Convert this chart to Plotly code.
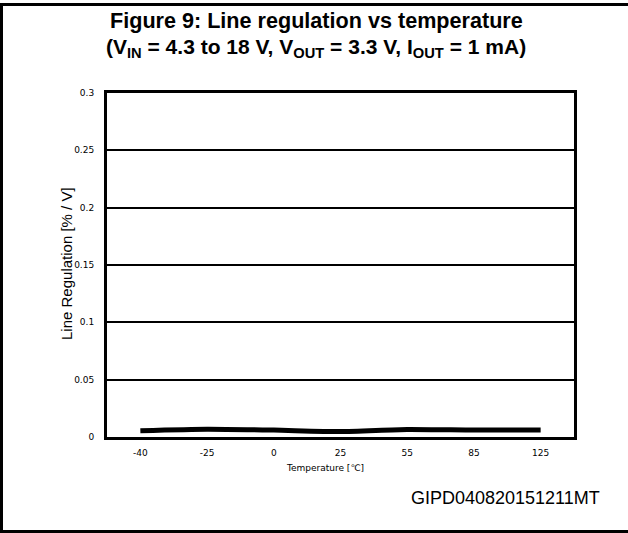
import plotly.graph_objects as go

temps = ["-40", "-25", "0", "25", "55", "85", "125"]
line_reg = [0.0055, 0.0068, 0.006, 0.0047, 0.0066, 0.006, 0.006]
y_ticks = [0, 0.05, 0.1, 0.15, 0.2, 0.25, 0.3]
y_tick_labels = ["0", "0.05", "0.1", "0.15", "0.2", "0.25", "0.3"]

W, H = 628, 533
L, R, T, B = 107, 54, 93, 96
pw, ph = W - L - R, H - T - B

def px(x):
    return (x - L) / pw

def py(y):
    return (H - B - y) / ph

fig = go.Figure()
fig.add_trace(go.Scatter(
    x=temps, y=line_reg, mode="lines",
    line=dict(color="black", width=5, shape="spline", smoothing=0.6),
    showlegend=False, hoverinfo="skip"))

tick_font = dict(family="DejaVu Sans", size=9, color="black")
fig.update_layout(
    width=W, height=H,
    margin=dict(l=L, r=R, t=T, b=B, pad=0),
    paper_bgcolor="white", plot_bgcolor="white",
    xaxis=dict(type="category", range=[-0.5, 6.5], showgrid=False,
               showline=True, linecolor="black", linewidth=3, mirror=True,
               ticks="", tickfont=tick_font, ticklabelstandoff=5, zeroline=False),
    yaxis=dict(range=[0, 0.3], tickvals=y_ticks, ticktext=y_tick_labels,
               showgrid=True, gridcolor="black", gridwidth=2,
               showline=True, linecolor="black", linewidth=3, mirror=True,
               ticks="", tickfont=tick_font, ticklabelstandoff=8, zeroline=False),
)

ann = []
ann.append(dict(text="<b>Figure 9: Line regulation vs temperature</b>",
                x=px(316), y=py(20), xref="paper", yref="paper",
                showarrow=False, xanchor="center", yanchor="middle",
                font=dict(family="Liberation Sans, Arial", size=21.6, color="black")))
ann.append(dict(text="<b>(V<sub>IN</sub> = 4.3 to 18 V, V<sub>OUT</sub> = 3.3 V, I<sub>OUT</sub> = 1 mA)</b>",
                x=px(316), y=py(48), xref="paper", yref="paper",
                showarrow=False, xanchor="center", yanchor="middle",
                font=dict(family="Liberation Sans, Arial", size=21, color="black")))
ann.append(dict(text="Line Regulation [% / V]", textangle=-90,
                x=px(66), y=py(264), xref="paper", yref="paper",
                showarrow=False, xanchor="center", yanchor="middle",
                font=dict(family="Liberation Sans, Arial", size=15, color="black")))
ann.append(dict(text="Temperature [℃]",
                x=px(325), y=py(468), xref="paper", yref="paper",
                showarrow=False, xanchor="center", yanchor="middle",
                font=dict(family="DejaVu Sans", size=9, color="black")))
ann.append(dict(text="GIPD040820151211MT",
                x=px(505), y=py(498), xref="paper", yref="paper",
                showarrow=False, xanchor="center", yanchor="middle",
                font=dict(family="Liberation Sans, Arial", size=18, color="black")))
fig.update_layout(annotations=ann)

# outer frame of the figure: filled bands
fill = dict(width=0)
fig.add_shape(type="rect", xref="paper", yref="paper",
              x0=px(0), x1=px(640), y0=py(6), y1=py(3),
              fillcolor="black", line=fill, layer="above")
fig.add_shape(type="rect", xref="paper", yref="paper",
              x0=px(0), x1=px(3), y0=py(533), y1=py(3),
              fillcolor="black", line=fill, layer="above")
fig.add_shape(type="rect", xref="paper", yref="paper",
              x0=px(0), x1=px(640), y0=py(533), y1=py(530),
              fillcolor="black", line=fill, layer="above")

fig.write_html("out.html", config={"displayModeBar": False},
               post_script="document.body.style.margin='0';document.body.style.overflow='hidden';")
